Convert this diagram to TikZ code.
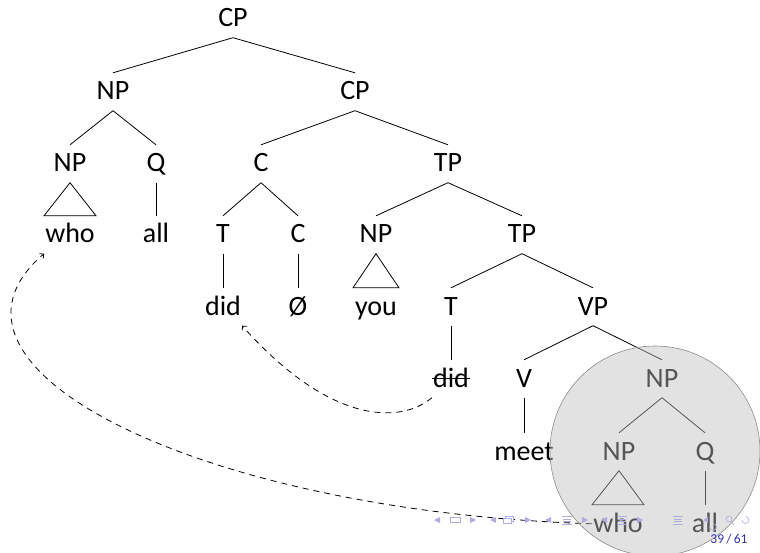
\documentclass[tikz,border=0pt]{standalone}
\usepackage{fontspec}
\setmainfont{Carlito}
\usetikzlibrary{arrows.meta}
\definecolor{circfill}{gray}{0.745}
\definecolor{circline}{gray}{0.55}
\definecolor{navc}{rgb}{0.68,0.68,0.88}
\definecolor{struct}{rgb}{0.2,0.2,0.7}
\begin{document}
\begin{tikzpicture}[x=1pt,y=-1pt,
  lbl/.style={anchor=base,inner xsep=1pt,inner ysep=0pt,text height=27pt,text depth=10.5pt,font=\fontsize{28}{32}\selectfont},
  br/.style={line width=0.8pt},
  mv/.style={line width=0.8pt,dash pattern=on 6pt off 5pt,-{Straight Barb[length=3pt,width=6pt]}},
  nav/.style={navc,line width=0.6pt}]
\useasboundingbox (0,0) rectangle (760,553);
% labels
\node[lbl] (cp1) at (233,27) {CP};
\node[lbl] (np1) at (113,100) {NP};
\node[lbl] (cp2) at (355,100) {CP};
\node[lbl] (np2) at (70,172) {NP};
\node[lbl] (q1) at (156,172) {Q};
\node[lbl] (c1) at (261,172) {C};
\node[lbl] (tp1) at (448,172) {TP};
\node[lbl] (who1) at (70,243) {who};
\node[lbl] (all1) at (156,243) {all};
\node[lbl] (t1) at (223,243) {T};
\node[lbl] (c2) at (298,243) {C};
\node[lbl] (np3) at (376,243) {NP};
\node[lbl] (tp2) at (522,243) {TP};
\node[lbl] (did1) at (223,315) {did};
\node[lbl] (null) at (298,315) {Ø};
\node[lbl] (you) at (376,315) {you};
\node[lbl] (t2) at (451,315) {T};
\node[lbl] (vp) at (593,315) {VP};
\node[lbl] (did2) at (451,387) {did};
\node[lbl] (v) at (524,387) {V};
\node[lbl] (np4) at (662,387) {NP};
\node[lbl] (meet) at (524,460) {meet};
\node[lbl] (np5) at (619,460) {NP};
\node[lbl] (q2) at (705,460) {Q};
\node[lbl] (who2) at (618,532) {who};
\node[lbl] (all2) at (705,532) {all};
% branches
\draw[br] (cp1.south) -- (np1.north) (cp1.south) -- (cp2.north);
\draw[br] (np1.south) -- (np2.north) (np1.south) -- (q1.north);
\draw[br] (cp2.south) -- (c1.north) (cp2.south) -- (tp1.north);
\draw[br] (q1.south) -- (all1.north);
\draw[br] (c1.south) -- (t1.north) (c1.south) -- (c2.north);
\draw[br] (tp1.south) -- (np3.north) (tp1.south) -- (tp2.north);
\draw[br] (t1.south) -- (did1.north) (c2.south) -- (null.north);
\draw[br] (tp2.south) -- (t2.north) (tp2.south) -- (vp.north);
\draw[br] (t2.south) -- (did2.north);
\draw[br] (vp.south) -- (v.north) (vp.south) -- (np4.north);
\draw[br] (v.south) -- (meet.north);
\draw[br] (np4.south) -- (np5.north) (np4.south) -- (q2.north);
\draw[br] (q2.south) -- (all2.north);
% triangles
\draw[br] (np2.south) -- ([xshift=-26pt]who1.north) -- ([xshift=26pt]who1.north) -- cycle;
\draw[br] (np3.south) -- ([xshift=-23pt]you.north) -- ([xshift=23pt]you.north) -- cycle;
\draw[br] (np5.south) -- ([xshift=-26pt]who2.north) -- ([xshift=26pt]who2.north) -- cycle;
% strike-through
\draw[br] (did2.west) -- (did2.east);
% movement arrows
\draw[mv] (did2.south west) .. controls +(-32,27) and +(87,98) .. (did1.south east);
\draw[mv] (who2.west) .. controls +(-390,-12) and +(-133,114) .. (who1.south west);
% highlight circle
\fill[circfill,fill opacity=0.45] (655,451) circle[radius=105];
\draw[circline,line width=0.6pt] (655,451) circle[radius=105];
% navigation symbols
\begin{scope}[nav]
\fill (440,517) -- (434,520) -- (440,523) -- cycle;
\draw (450,517.5) rectangle (460,522.5);
\fill (470,517) -- (476,520) -- (470,523) -- cycle;
\fill (496,517) -- (490,520) -- (496,523) -- cycle;
\draw[fill=white] (505,516) rectangle (513,521);
\draw[fill=white] (503,518.5) rectangle (511,523.5);
\fill (525,517) -- (531,520) -- (525,523) -- cycle;
\fill (551,517) -- (545,520) -- (551,523) -- cycle;
\draw (562,516.5) -- (572,516.5) (563,519) -- (571,519) (563,521.5) -- (571,521.5) (562,524) -- (572,524);
\fill (582,517) -- (588,520) -- (582,523) -- cycle;
\fill (607,517) -- (601,520) -- (607,523) -- cycle;
\draw (617,516.5) -- (627,516.5) (618,519) -- (626,519) (618,521.5) -- (626,521.5) (617,524) -- (627,524);
\fill (637,517) -- (643,520) -- (637,523) -- cycle;
\draw (673,516.5) -- (683,516.5) (674,519) -- (682,519) (674,521.5) -- (682,521.5) (673,524) -- (683,524);
\fill (708,517) -- (703,520) -- (708,523) -- cycle;
\draw (713,523.5) arc[start angle=-90,end angle=180,radius=3.5];
\draw (729,519) circle[radius=3];
\draw (731,521.5) -- (734,525);
\draw (742,520) arc[start angle=180,end angle=-90,radius=3.5];
\end{scope}
% page number
\node[anchor=base,text=struct,font=\fontsize{13.5}{15}\selectfont,inner sep=0pt] (pg) at (729,543) {39\,/\,61};
\end{tikzpicture}
\end{document}
